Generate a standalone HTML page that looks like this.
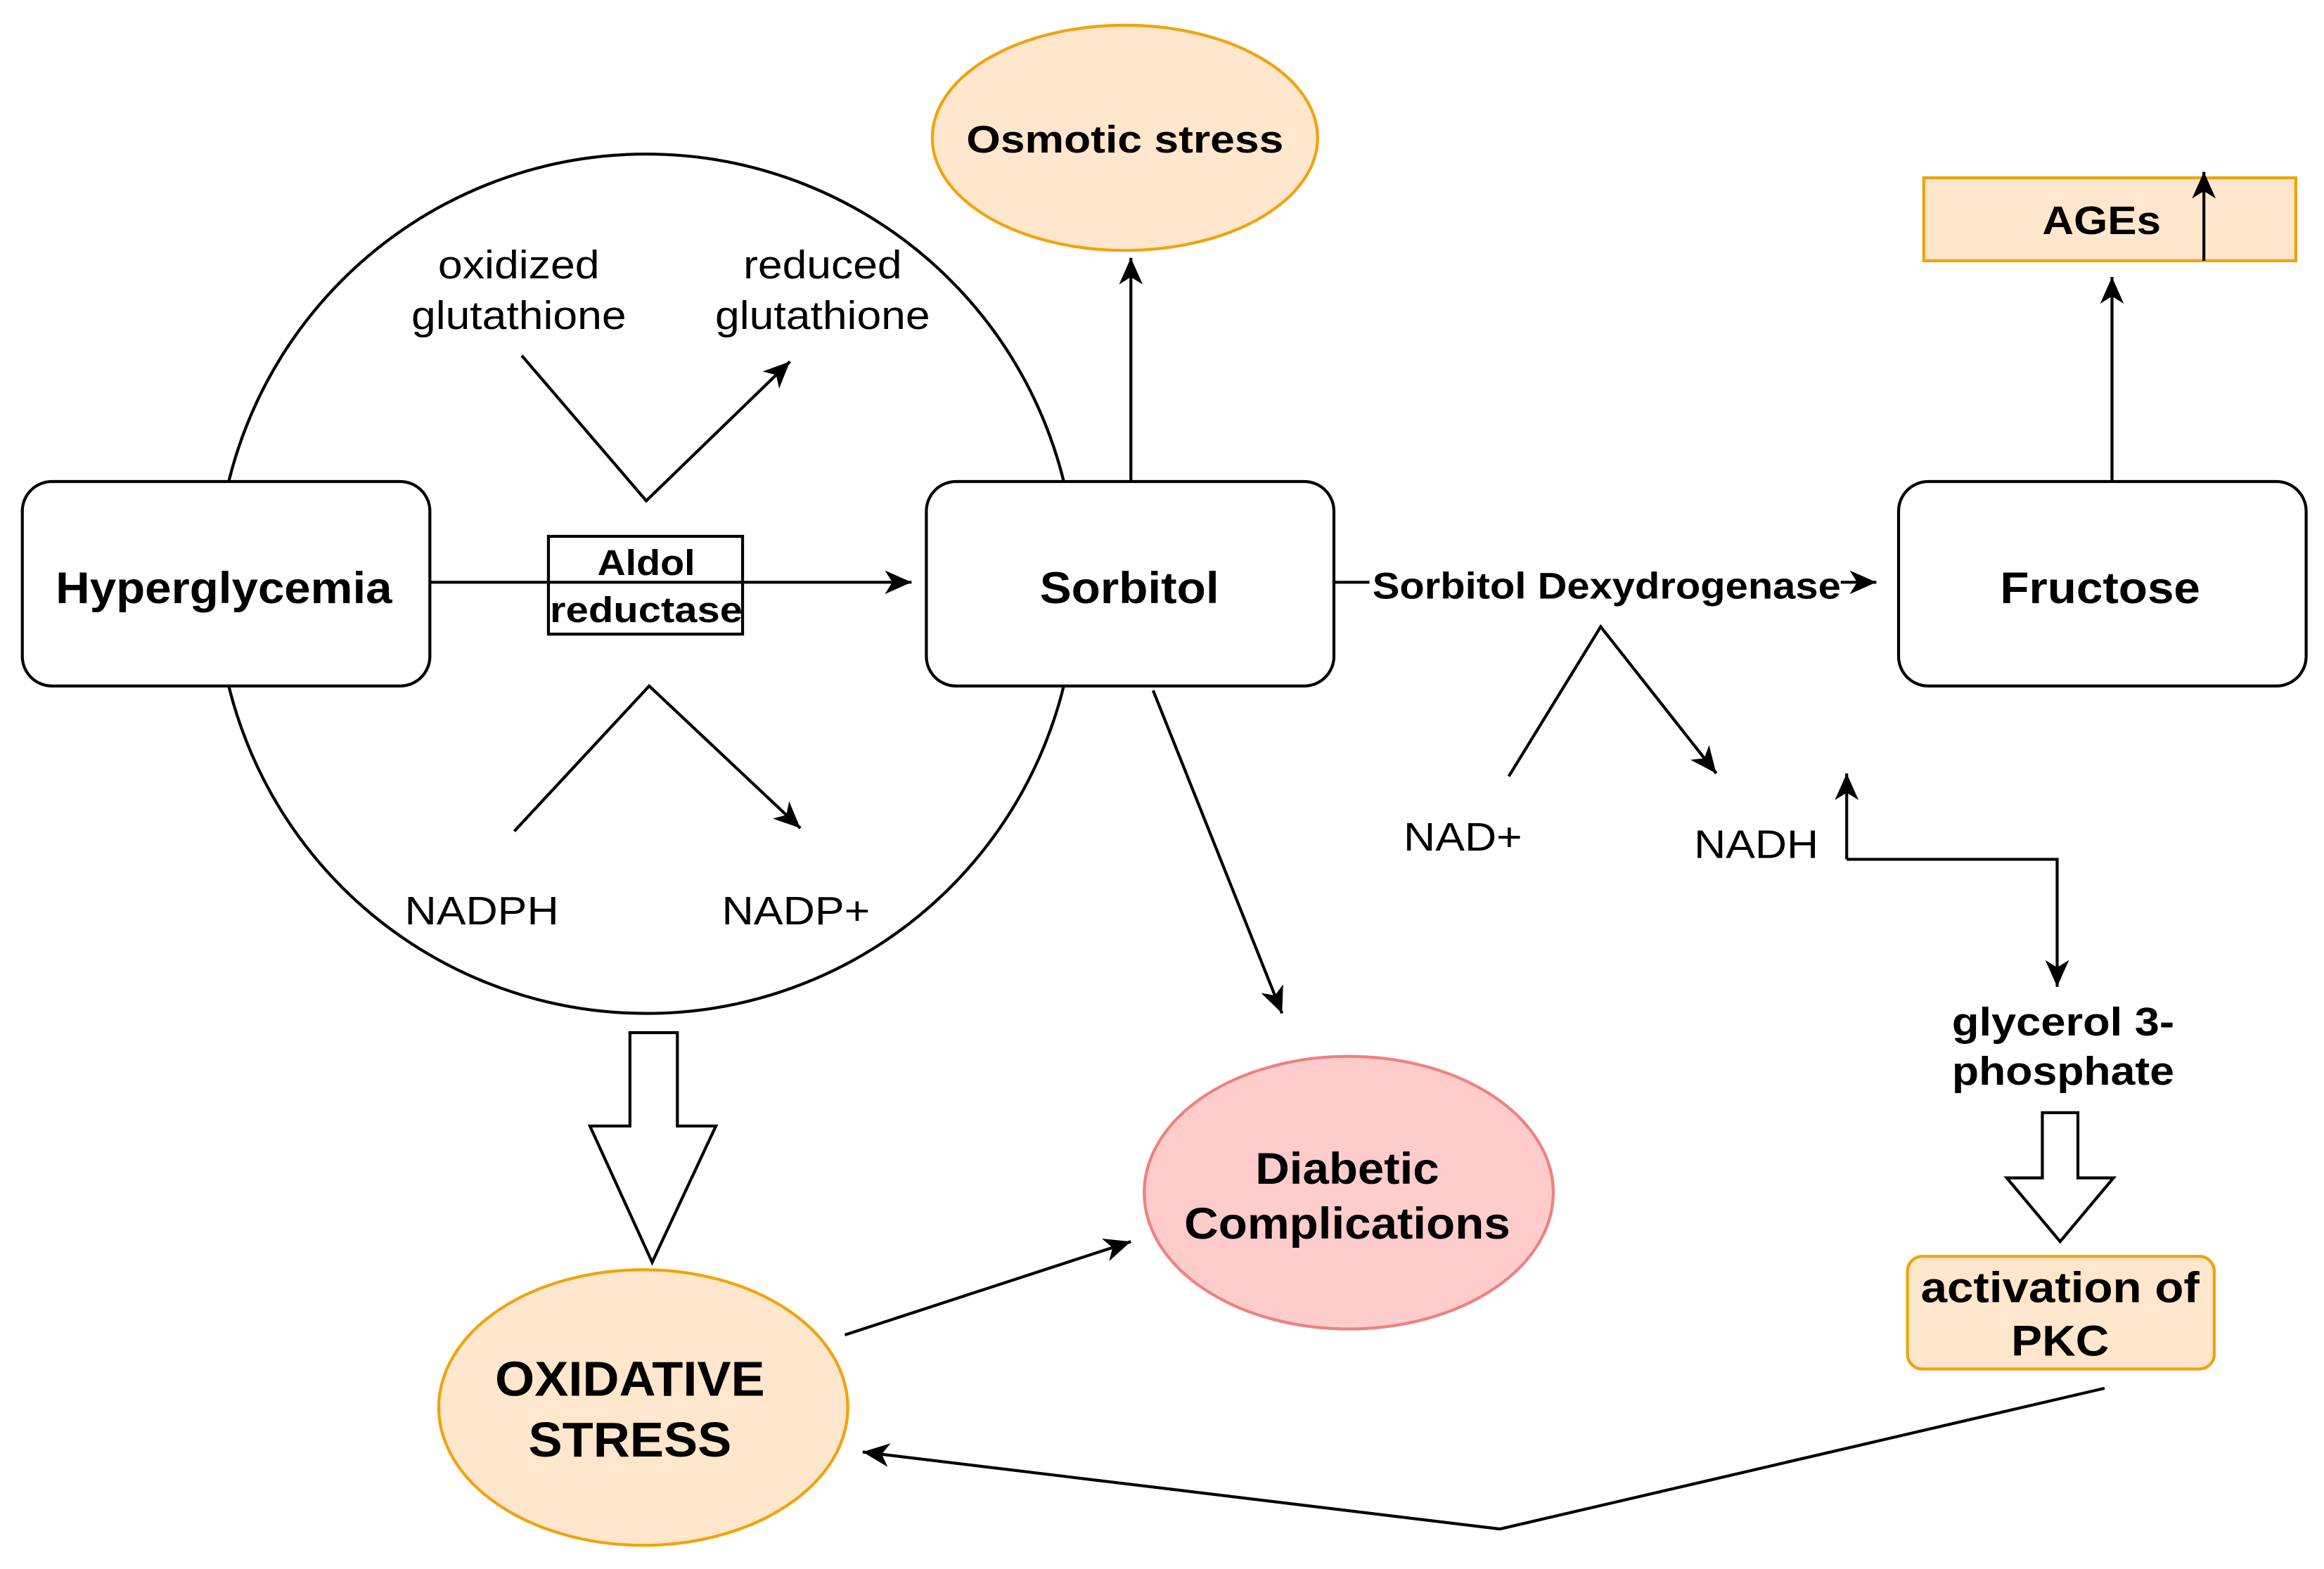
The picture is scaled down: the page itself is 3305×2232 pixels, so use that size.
<!DOCTYPE html>
<html><head><style>html,body{margin:0;padding:0;background:#fff}svg{display:block}</style></head><body>
<svg width="3305" height="2232" viewBox="0 0 1568 1059" xmlns="http://www.w3.org/2000/svg" font-family="Liberation Sans, sans-serif">
<defs><marker id="b" markerWidth="20" markerHeight="20" refX="18" refY="10" orient="auto" markerUnits="userSpaceOnUse"><path d="M0,2 L18,10 L0,18 L5,10 z" fill="#000"/></marker></defs>
<g fill="none" stroke="#000" stroke-width="2">
<circle cx="436" cy="394" r="290" fill="#fff"/>
<rect x="15" y="325" width="275" height="138" rx="20" fill="#fff"/>
<rect x="625" y="325" width="275" height="138" rx="20" fill="#fff"/>
<rect x="1281" y="325" width="275" height="138" rx="20" fill="#fff"/>
<line x1="290" y1="393" x2="615" y2="393" marker-end="url(#b)"/>
<rect x="370" y="362" width="131" height="66" fill="none"/>
<polyline points="352,240 436,338 533,244" marker-end="url(#b)"/>
<polyline points="347,561 438,463 540,559" marker-end="url(#b)"/>
<line x1="763" y1="325" x2="763" y2="174" marker-end="url(#b)"/>
<line x1="1425" y1="325" x2="1425" y2="187" marker-end="url(#b)"/>
<line x1="900" y1="393" x2="924" y2="393"/>
<line x1="1242" y1="393" x2="1266" y2="393" marker-end="url(#b)"/>
<polyline points="1018,524 1080,423 1158,522" marker-end="url(#b)"/>
<line x1="1246" y1="580" x2="1246" y2="522" marker-end="url(#b)"/>
<polyline points="1246,580 1388,580 1388,666" marker-end="url(#b)"/>
<line x1="778" y1="466" x2="865" y2="684" marker-end="url(#b)"/>
<line x1="570" y1="901" x2="763" y2="838" marker-end="url(#b)"/>
<polyline points="1420,937 1012,1032 582,980" marker-end="url(#b)"/>
<path d="M425,697 L457,697 L457,760 L483,760 L440,852 L398,760 L425,760 Z" fill="#fff"/>
<path d="M1378,751 L1402,751 L1402,795 L1426,795 L1390,838 L1354,795 L1378,795 Z" fill="#fff"/>
</g>
<ellipse cx="759" cy="93" rx="130" ry="76" fill="#ffe6cc" stroke="#f0a30a" stroke-width="2"/>
<rect x="1298" y="120" width="251" height="56" fill="#ffe6cc" stroke="#f0a30a" stroke-width="2"/>
<line x1="1487" y1="176" x2="1487" y2="116" stroke="#000" stroke-width="2" marker-end="url(#b)"/>
<rect x="1287" y="848" width="207" height="76" rx="10" fill="#ffe6cc" stroke="#f0a30a" stroke-width="2"/>
<ellipse cx="434" cy="950" rx="138" ry="93" fill="#ffe6cc" stroke="#f0a30a" stroke-width="2"/>
<ellipse cx="910" cy="805" rx="138" ry="92" fill="#ffcccc" stroke="#f08080" stroke-width="2"/>
<g font-weight="bold" text-anchor="middle" font-size="30" lengthAdjust="spacingAndGlyphs">
<text x="151" y="407" textLength="227" lengthAdjust="spacingAndGlyphs">Hyperglycemia</text>
<text x="762" y="407" textLength="121" lengthAdjust="spacingAndGlyphs">Sorbitol</text>
<text x="1417" y="407" textLength="135" lengthAdjust="spacingAndGlyphs">Fructose</text>
<text x="759" y="103" font-size="26" textLength="214" lengthAdjust="spacingAndGlyphs">Osmotic stress</text>
<text x="1418" y="158" font-size="27" textLength="80" lengthAdjust="spacingAndGlyphs">AGEs</text>
<text x="436" y="388" font-size="24" textLength="66" lengthAdjust="spacingAndGlyphs">Aldol</text>
<text x="436" y="420" font-size="24" textLength="130" lengthAdjust="spacingAndGlyphs">reductase</text>
<text x="1084" y="404" font-size="25" textLength="316" lengthAdjust="spacingAndGlyphs">Sorbitol Dexydrogenase</text>
<text x="1392" y="699" font-size="27" textLength="150" lengthAdjust="spacingAndGlyphs">glycerol 3-</text>
<text x="1392" y="732" font-size="27" textLength="150" lengthAdjust="spacingAndGlyphs">phosphate</text>
<text x="1390" y="879" font-size="29" textLength="188" lengthAdjust="spacingAndGlyphs">activation of</text>
<text x="1390" y="915" font-size="29" textLength="66" lengthAdjust="spacingAndGlyphs">PKC</text>
<text x="425" y="942" font-size="33" textLength="182" lengthAdjust="spacingAndGlyphs">OXIDATIVE</text>
<text x="425" y="983" font-size="33" textLength="137" lengthAdjust="spacingAndGlyphs">STRESS</text>
<text x="909" y="799" font-size="30" textLength="124" lengthAdjust="spacingAndGlyphs">Diabetic</text>
<text x="909" y="836" font-size="30" textLength="220" lengthAdjust="spacingAndGlyphs">Complications</text>
</g>
<g text-anchor="middle" font-size="27">
<text x="350" y="188" textLength="109" lengthAdjust="spacingAndGlyphs">oxidized</text>
<text x="350" y="222" textLength="145" lengthAdjust="spacingAndGlyphs">glutathione</text>
<text x="555" y="188" textLength="107" lengthAdjust="spacingAndGlyphs">reduced</text>
<text x="555" y="222" textLength="145" lengthAdjust="spacingAndGlyphs">glutathione</text>
<text x="325" y="624" textLength="104" lengthAdjust="spacingAndGlyphs">NADPH</text>
<text x="537" y="624" textLength="100" lengthAdjust="spacingAndGlyphs">NADP+</text>
<text x="987" y="574" textLength="80" lengthAdjust="spacingAndGlyphs">NAD+</text>
<text x="1185" y="579" textLength="84" lengthAdjust="spacingAndGlyphs">NADH</text>
</g>
</svg>
</body></html>
